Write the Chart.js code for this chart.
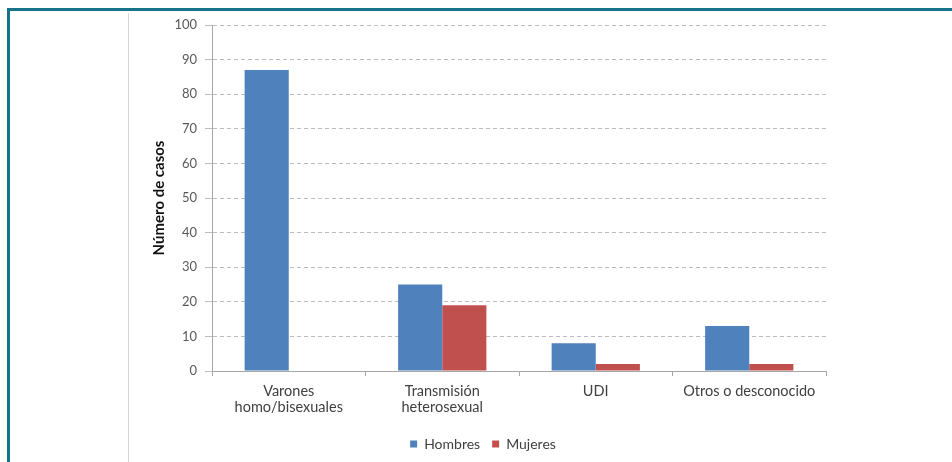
<!DOCTYPE html>
<html>
<head>
<meta charset="utf-8">
<script src="https://cdn.jsdelivr.net/npm/chart.js@4.4.0/dist/chart.umd.min.js"></script>
<style>
    body { margin: 0; background: #fff; }
    .frame {
        position: absolute; left: 7px; top: 8px; width: 960px; height: 470px;
        border-top: 3px solid #16738a; border-left: 3px solid #16738a;
    }
    .divider {
        position: absolute; left: 128px; top: 13px; width: 1px; height: 460px;
        background: #d4d4d4;
    }
    #chart { position: absolute; left: 0; top: 0; }
</style>
</head>
<body>
<div class="frame"></div>
<div class="divider"></div>
<canvas id="chart" width="952" height="462"></canvas>

<script>
// data
const categories = [
    ['Varones', 'homo/bisexuales'],
    ['Transmisión', 'heterosexual'],
    'UDI',
    'Otros o desconocido'
];
const hombres = [87, 25, 8, 13];
const mujeres = [0, 19, 2, 2];
const yTicks = [0, 10, 20, 30, 40, 50, 60, 70, 80, 90, 100];

const font = 'Lato, "Open Sans", sans-serif';

const ctx = document.getElementById('chart').getContext('2d');
new Chart(ctx, {
    type: 'bar',
    data: {
        labels: categories,
        datasets: [{
            label: 'Hombres',
            data: hombres,
            backgroundColor: '#4f81bd'
        }, {
            label: 'Mujeres',
            data: mujeres,
            backgroundColor: '#c0504d'
        }]
    },
    options: {
        responsive: false,
        animation: false,
        categoryPercentage: 0.575,
        barPercentage: 1.0,
        layout: { padding: { left: 140, right: 126, top: 25, bottom: 1 } },
        plugins: {
            tooltip: { enabled: false },
            legend: {
                position: 'bottom',
                labels: {
                    boxWidth: 7, boxHeight: 7, padding: 12,
                    color: '#404040',
                    font: { family: font, size: 14 }
                }
            }
        },
        scales: {
            y: {
                min: 0, max: 100,
                afterFit: function (scale) { scale.width = 72; },
                afterBuildTicks: function (scale) {
                    scale.ticks = yTicks.map(function (v) { return { value: v }; });
                },
                ticks: {
                    padding: 8,
                    color: '#595959',
                    font: { family: font, size: 13 }
                },
                grid: {
                    color: '#bdbdbd',
                    tickColor: '#bdbdbd',
                    tickLength: 7
                },
                border: { color: '#a6a6a6', dash: [4, 3] },
                title: {
                    display: true,
                    text: 'Número de casos',
                    color: '#111',
                    padding: { top: 10 },
                    font: { family: font, size: 15, weight: 'bold' }
                }
            },
            x: {
                afterFit: function (scale) { scale.height = 54; },
                ticks: {
                    padding: 8,
                    color: '#404040',
                    maxRotation: 0,
                    font: { family: font, size: 14.5, lineHeight: 1.05 }
                },
                grid: {
                    drawOnChartArea: false,
                    color: '#a6a6a6',
                    tickLength: 5
                },
                border: { color: '#a6a6a6' }
            }
        }
    }
});
</script>
</body>
</html>
